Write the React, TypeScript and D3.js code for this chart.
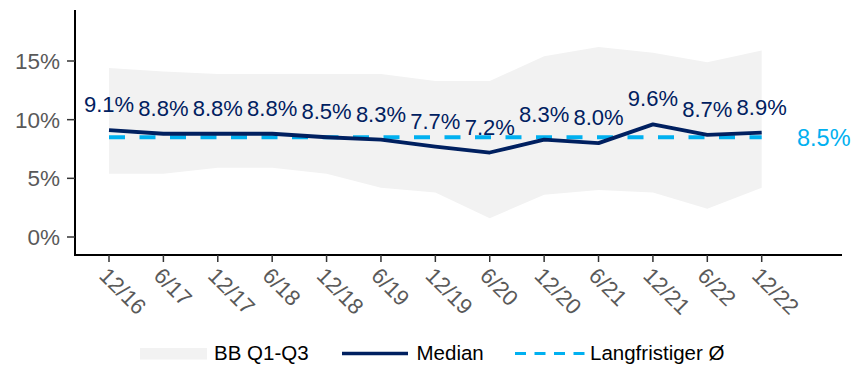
import React from "react";
import * as d3 from "d3";

const categories = ["12/16", "6/17", "12/17", "6/18", "12/18", "6/19", "12/19", "6/20", "12/20", "6/21", "12/21", "6/22", "12/22"];
const median = [9.1, 8.8, 8.8, 8.8, 8.5, 8.3, 7.7, 7.2, 8.3, 8.0, 9.6, 8.7, 8.9];
const q1 = [5.4, 5.4, 5.9, 5.9, 5.4, 4.2, 3.8, 1.6, 3.6, 4.0, 3.8, 2.4, 4.2];
const q3 = [14.4, 14.1, 13.9, 13.9, 13.9, 13.9, 13.3, 13.3, 15.4, 16.2, 15.7, 14.9, 15.9];
const longTermAvg = 8.5;
const yTicks = [0, 5, 10, 15];
const legendLabels = ["BB Q1-Q3", "Median", "Langfristiger Ø"];

const W = 856;
const H = 367;
const FONT = "'Liberation Sans', Arial, sans-serif";
const NAVY = "#002060";
const CYAN = "#00B0F0";
const GREY_TXT = "#595959";

export default function App() {
  const x = d3.scaleLinear().domain([0, categories.length - 1]).range([109, 761.7]);
  const y = d3.scaleLinear().domain([0, 15]).range([237, 61]);
  const idx = categories.map((_, i) => i);

  const area = d3
    .area<number>()
    .x((i) => x(i))
    .y0((i) => y(q1[i]))
    .y1((i) => y(q3[i]));
  const line = d3
    .line<number>()
    .x((i) => x(i))
    .y((i) => y(median[i]));

  const axisLeft = 75;
  const axisBottom = 255;
  const axisTop = 10;
  const axisRight = 842;

  return (
    <svg
      width={W}
      height={H}
      style={{ position: "absolute", left: 0, top: 0, background: "#fff" }}
      fontFamily={FONT}
    >
      <path d={area(idx) || ""} fill="#F2F2F2" />
      <line
        x1={x(0)}
        x2={x(categories.length - 1)}
        y1={y(longTermAvg)}
        y2={y(longTermAvg)}
        stroke={CYAN}
        strokeWidth={4}
        strokeDasharray="16 14.5"
      />
      <path d={line(idx) || ""} fill="none" stroke={NAVY} strokeWidth={3.8} strokeLinejoin="round" />

      {/* axes */}
      <line x1={axisLeft} x2={axisLeft} y1={axisTop} y2={axisBottom + 1} stroke="#000" strokeWidth={2} />
      <line x1={axisLeft - 1} x2={axisRight} y1={axisBottom} y2={axisBottom} stroke="#000" strokeWidth={2} />

      {yTicks.map((t) => (
        <g key={t}>
          <line x1={axisLeft - 8} x2={axisLeft} y1={y(t)} y2={y(t)} stroke="#333" strokeWidth={1.5} />
          <text x={60} y={y(t)} dy="0.36em" textAnchor="end" fontSize={22.5} fill={GREY_TXT}>
            {t}%
          </text>
        </g>
      ))}

      {categories.map((c, i) => (
        <g key={c}>
          <line x1={x(i)} x2={x(i)} y1={axisBottom} y2={axisBottom + 7} stroke="#333" strokeWidth={1.5} />
          <text
            transform={`translate(${x(i) - 11},${277}) rotate(45)`}
            textAnchor="start"
            fontSize={22}
            fill={GREY_TXT}
          >
            {c}
          </text>
        </g>
      ))}

      {median.map((v, i) => (
        <text key={i} x={x(i)} y={y(v) - 18} textAnchor="middle" fontSize={22} fill={NAVY}>
          {v.toFixed(1)}%
        </text>
      ))}

      <text x={797} y={y(longTermAvg)} dy="0.36em" fontSize={23.5} fill={CYAN}>
        {longTermAvg.toFixed(1)}%
      </text>

      {/* legend */}
      <rect x={140} y={348} width={67} height={11.5} fill="#F2F2F2" />
      <text x={214} y={360} fontSize={20.5} fill="#000">
        {legendLabels[0]}
      </text>
      <line x1={342} x2={408} y1={353.5} y2={353.5} stroke={NAVY} strokeWidth={3.5} />
      <text x={416.5} y={360} fontSize={20.5} fill="#000">
        {legendLabels[1]}
      </text>
      <line x1={515} x2={585} y1={353.5} y2={353.5} stroke={CYAN} strokeWidth={3} strokeDasharray="11 8.5" />
      <text x={590} y={360} fontSize={20.5} fill="#000">
        {legendLabels[2]}
      </text>
    </svg>
  );
}
